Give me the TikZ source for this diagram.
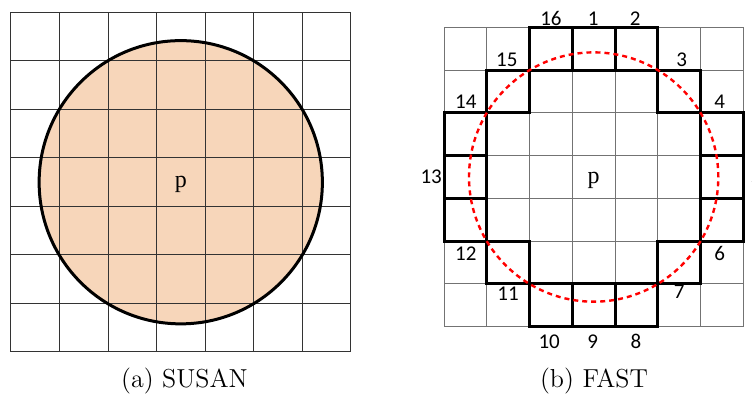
\documentclass[tikz,border=0pt]{standalone}
\usepackage{fontspec}
\newfontfamily\numfont{Carlito}
\newfontfamily\pfont{Liberation Serif}
\definecolor{susanfill}{RGB}{247,214,186}
\tikzset{
  cellline/.style={line width=0.5pt, black!80},
  fastline/.style={line width=0.5pt, black!55},
  ringcell/.style={line width=1.5pt},
  ringlabel/.style={font=\numfont\fontsize{10.5}{12}\selectfont, inner sep=0pt},
  centerlabel/.style={font=\pfont\fontsize{12}{14}\selectfont, inner sep=0pt},
  subcap/.style={font=\fontsize{13}{15}\selectfont},
}
\begin{document}
\begin{tikzpicture}[x=0.5pt,y=0.5pt]
    \useasboundingbox (0,0) rectangle (752,396);
    % SUSAN
    \begin{scope}[shift={(11,44)}, x=24.25pt, y=24.25pt]
        \fill[susanfill] (3.5,3.5) circle (2.92);
        \foreach \k in {0,...,7} {
            \draw[cellline] (\k,0) -- (\k,7);
            \draw[cellline] (0,\k) -- (7,\k);
        }
        \draw[line width=1.5pt] (3.5,3.5) circle (2.92);
        \node[centerlabel] (psusan) at (3.5,3.45) {p};
    \end{scope}
    \node[subcap] (capa) at (184.5,14.5) {(a)\ SUSAN};

    % FAST
    \begin{scope}[shift={(444,69.3)}, x=21.38pt, y=21.38pt]
        \foreach \k in {0,...,7} {
            \draw[fastline] (\k,0) -- (\k,7);
            \draw[fastline] (0,\k) -- (7,\k);
        }
        % Bresenham ring
        \foreach \i/\dx/\dy in {1/0/3, 2/1/3, 3/2/2, 4/3/1, 5/3/0, 6/3/-1, 7/2/-2, 8/1/-3,
                                9/0/-3, 10/-1/-3, 11/-2/-2, 12/-3/-1, 13/-3/0, 14/-3/1, 15/-2/2, 16/-1/3} {
            \draw[ringcell] (3+\dx,3+\dy) rectangle +(1,1);
        }
        % numbers
        \foreach \i/\lx/\ly in {1/3.49/7.2, 2/4.47/7.2, 3/5.56/6.24, 4/6.45/5.26, 5/7.3/3.5, 6/6.45/1.71,
                                7/5.5/0.81, 8/4.49/-0.35, 9/3.48/-0.35, 10/2.46/-0.35, 11/1.5/0.76,
                                12/0.51/1.71, 13/-0.3/3.51, 14/0.51/5.26, 15/1.47/6.24, 16/2.5/7.2} {
            \node[ringlabel] (n\i) at (\lx,\ly) {\i};
        }
        \draw[red, line width=1.2pt, dash pattern=on 2.5pt off 2pt] (3.5,3.5) circle (2.915);
        \node[centerlabel] (pfast) at (3.5,3.42) {p};
    \end{scope}
    \node[subcap] (capb) at (594,14.5) {(b)\ FAST};
\end{tikzpicture}
\end{document}
